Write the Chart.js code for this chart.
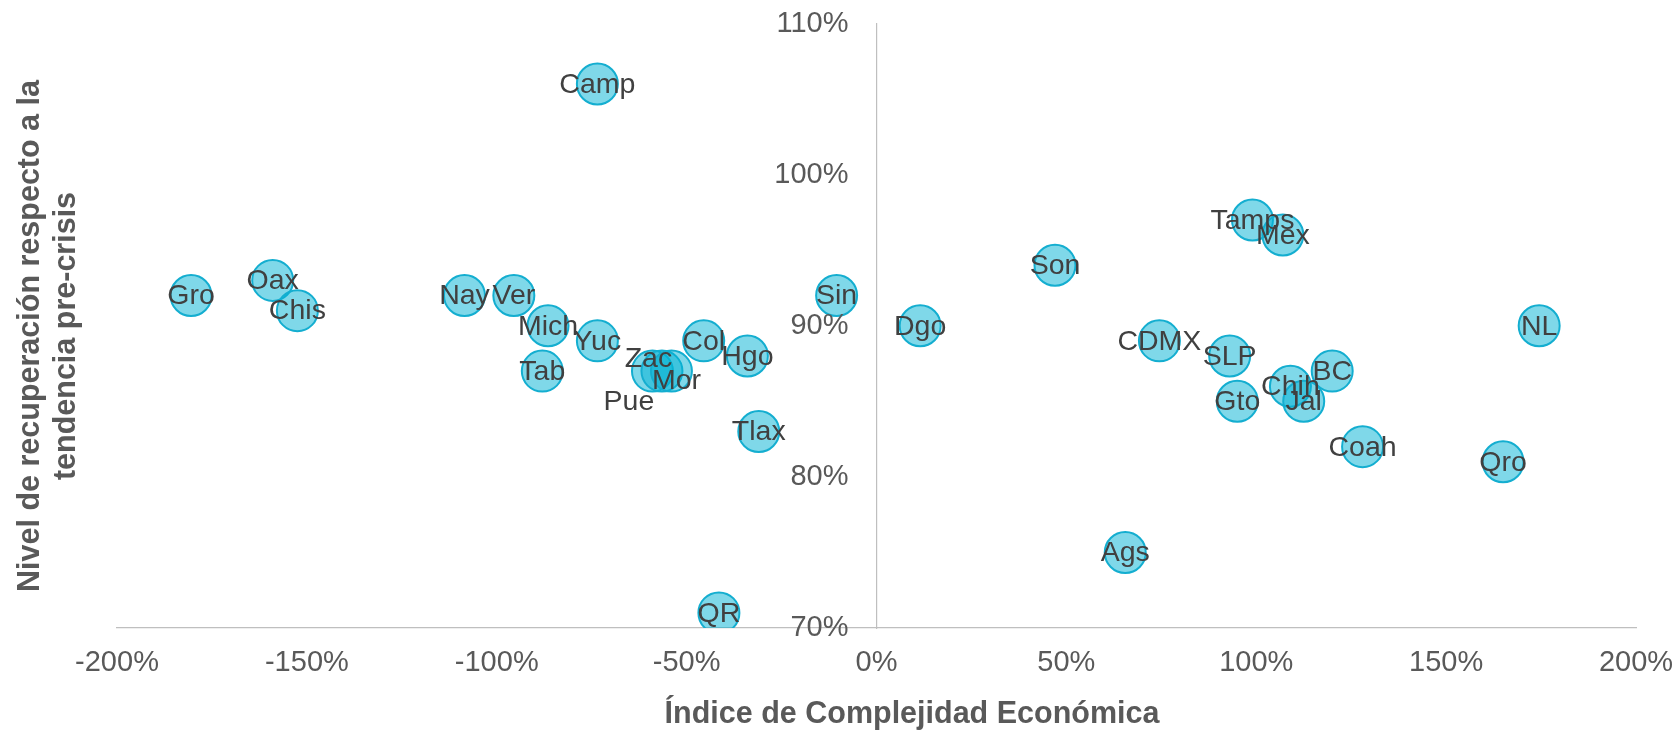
<!DOCTYPE html>
<html>
<head>
<meta charset="utf-8">
<script src="https://cdn.jsdelivr.net/npm/chart.js@4/dist/chart.umd.min.js"></script>
<style>
  html, body { margin: 0; padding: 0; background: #fff; }
  #wrap { width: 1673px; height: 734px; }
</style>
</head>
<body>
<div id="wrap"><canvas id="chart"></canvas></div>
<script>
const states = ['Gro', 'Oax', 'Chis', 'Nay', 'Ver', 'Mich', 'Tab', 'Yuc', 'Camp', 'Col', 'Hgo', 'Tlax', 'QR', 'Sin',
  'Zac', 'Pue', 'Mor', 'Dgo', 'Son', 'Ags', 'CDMX', 'SLP', 'Gto', 'Tamps', 'Mex', 'Chih', 'Jal', 'BC', 'Coah', 'Qro', 'NL'];
// Índice de Complejidad Económica (%)
const complexity = [-180.5, -159, -152.5, -108.5, -95.5, -86.5, -88, -73.5, -73.5, -45.5, -34, -31, -41.5, -10.5,
  -59, -56.5, -54, 11.5, 47, 65.5, 74.5, 93, 95, 99, 107, 109, 112.5, 120, 128, 165, 174.5];
// Nivel de recuperación respecto a la tendencia pre-crisis (%)
const recovery = [92, 93, 91, 92, 92, 90, 87, 89, 106, 89, 88, 83, 71, 92,
  87, 87, 87, 90, 94, 75, 89, 88, 85, 97, 96, 86, 85, 87, 82, 81, 90];
const xTicks = [-200, -150, -100, -50, 0, 50, 100, 150, 200];
const yTicks = [70, 80, 90, 100, 110];

// labels moved by hand in the original, px
const labelShift = { Zac: [-4, -13], Mor: [5, 9], Pue: [-33, 30] };

const tickFont = '29px "Liberation Sans", Arial, sans-serif';
const points = states.map((name, i) => ({ x: complexity[i], y: recovery[i], name }));

// y axis sits at x = 0, its labels go left of the line
const yTickLabels = {
  id: 'yTickLabels',
  afterDraw(chart) {
    const { ctx, scales } = chart;
    const x0 = scales.x.getPixelForValue(0);
    ctx.save();
    ctx.font = tickFont;
    ctx.fillStyle = '#595959';
    ctx.textAlign = 'right';
    ctx.textBaseline = 'middle';
    scales.y.ticks.forEach((t) => {
      ctx.fillText(`${t.value}%`, x0 - 28, scales.y.getPixelForValue(t.value));
    });
    ctx.restore();
  },
};

const pointLabels = {
  id: 'pointLabels',
  afterDatasetsDraw(chart) {
    const { ctx } = chart;
    const meta = chart.getDatasetMeta(0);
    ctx.save();
    ctx.font = '28.5px "Liberation Sans", Arial, sans-serif';
    ctx.fillStyle = '#404040';
    ctx.textAlign = 'center';
    ctx.textBaseline = 'middle';
    meta.data.forEach((el, i) => {
      const name = states[i];
      const [dx, dy] = labelShift[name] || [0, 0];
      ctx.fillText(name, el.x + dx, el.y + dy + 1);
    });
    ctx.restore();
  },
};

const axisTitles = {
  id: 'axisTitles',
  afterDraw(chart) {
    const { ctx } = chart;
    ctx.save();
    ctx.font = 'bold 30.5px "Liberation Sans", Arial, sans-serif';
    ctx.fillStyle = '#595959';
    ctx.textAlign = 'center';
    ctx.textBaseline = 'alphabetic';
    ctx.fillText('Índice de Complejidad Económica', 912, 723);
    ctx.translate(39, 336);
    ctx.rotate(-Math.PI / 2);
    ctx.fillText('Nivel de recuperación respecto a la', 0, 0);
    ctx.fillText('tendencia pre-crisis', 0, 36);
    ctx.restore();
  },
};

const noPad = (scale) => {
  scale.paddingLeft = 0;
  scale.paddingRight = 0;
  scale.paddingTop = 0;
  scale.paddingBottom = 0;
};

new Chart(document.getElementById('chart'), {
  type: 'scatter',
  data: {
    datasets: [
      {
        data: points,
        backgroundColor: 'rgba(0, 178, 212, 0.5)',
        borderColor: 'rgb(20, 174, 208)',
        borderWidth: 2,
        pointRadius: 20.5,
        pointHoverRadius: 20.5,
      },
    ],
  },
  options: {
    responsive: true,
    maintainAspectRatio: false,
    animation: false,
    layout: { padding: { left: 117, right: 37, top: 23.5, bottom: 0 } },
    plugins: {
      legend: { display: false },
      tooltip: { enabled: false },
    },
    scales: {
      x: {
        type: 'linear',
        position: 'bottom',
        min: -200,
        max: 200,
        afterBuildTicks: (scale) => { scale.ticks = xTicks.map((value) => ({ value })); },
        afterFit: (scale) => { scale.height = 106; noPad(scale); },
        grid: { color: 'rgba(0,0,0,0)', drawTicks: false },
        border: { display: true, color: '#bfbfbf', width: 1.2 },
        ticks: {
          padding: 18,
          color: '#595959',
          font: { family: '"Liberation Sans", Arial, sans-serif', size: 29 },
          callback: (value) => `${value}%`,
          maxRotation: 0,
        },
      },
      y: {
        type: 'linear',
        position: { x: 0 },
        min: 70,
        max: 110,
        afterBuildTicks: (scale) => { scale.ticks = yTicks.map((value) => ({ value })); },
        afterFit: noPad,
        grid: { color: 'rgba(0,0,0,0)', drawTicks: false },
        border: { display: true, color: '#bfbfbf', width: 1.2 },
        ticks: { display: false },
      },
    },
  },
  plugins: [pointLabels, yTickLabels, axisTitles],
});
</script>
</body>
</html>
